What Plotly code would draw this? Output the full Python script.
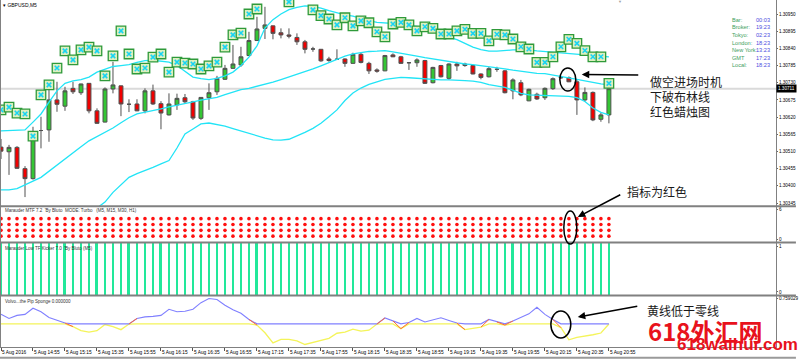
import pandas as pd
import plotly.graph_objects as go

# ---------------- data ----------------
times = pd.date_range("2016-08-05 14:35", periods=77, freq="5min")
tick_times = times[::4]
tick_labels = ["5 Aug 2016", "5 Aug 14:55", "5 Aug 15:15", "5 Aug 15:35", "5 Aug 15:55",
               "5 Aug 16:15", "5 Aug 16:35", "5 Aug 16:55", "5 Aug 17:15", "5 Aug 17:35",
               "5 Aug 17:55", "5 Aug 18:15", "5 Aug 18:35", "5 Aug 18:55", "5 Aug 19:15",
               "5 Aug 19:35", "5 Aug 19:55", "5 Aug 20:15", "5 Aug 20:35", "5 Aug 20:55"]

open_ = [1.30524, 1.30509, 1.30523, 1.30455, 1.30423, 1.30577, 1.30579, 1.30675, 1.30655, 1.30712,
         1.30698, 1.30728, 1.30640, 1.30604, 1.30710, 1.30720, 1.30661, 1.30662, 1.30640, 1.30704,
         1.30663, 1.30627, 1.30659, 1.30682, 1.30669, 1.30616, 1.30682, 1.30701, 1.30741, 1.30776,
         1.30787, 1.30817, 1.30865, 1.30904, 1.30912, 1.30890, 1.30883, 1.30875, 1.30861, 1.30838,
         1.30837, 1.30806, 1.30805, 1.30806, 1.30792, 1.30821, 1.30792, 1.30771, 1.30768, 1.30819,
         1.30813, 1.30794, 1.30794, 1.30801, 1.30730, 1.30785, 1.30744, 1.30790, 1.30790, 1.30785,
         1.30758, 1.30749, 1.30773, 1.30768, 1.30704, 1.30730, 1.30672, 1.30693, 1.30682, 1.30711,
         1.30747, 1.30746, 1.30733, 1.30675, 1.30699, 1.30613, 1.30627]
high = [1.30550, 1.30531, 1.30527, 1.30463, 1.30589, 1.30621, 1.30733, 1.30733, 1.30717, 1.30733,
        1.30727, 1.30729, 1.30648, 1.30715, 1.30797, 1.30721, 1.30677, 1.30677, 1.30712, 1.30724,
        1.30671, 1.30696, 1.30695, 1.30694, 1.30672, 1.30684, 1.30728, 1.30752, 1.30787, 1.30851,
        1.30845, 1.30893, 1.30941, 1.30973, 1.30913, 1.30904, 1.30904, 1.30888, 1.30867, 1.30845,
        1.30838, 1.30813, 1.30837, 1.30808, 1.30826, 1.30826, 1.30797, 1.30776, 1.30819, 1.30824,
        1.30816, 1.30795, 1.30808, 1.30803, 1.30781, 1.30787, 1.30792, 1.30797, 1.30794, 1.30787,
        1.30760, 1.30781, 1.30781, 1.30771, 1.30744, 1.30739, 1.30711, 1.30698, 1.30715, 1.30747,
        1.30750, 1.30750, 1.30739, 1.30715, 1.30702, 1.30633, 1.30715]
low = [1.30486, 1.30435, 1.30454, 1.30364, 1.30420, 1.30520, 1.30541, 1.30637, 1.30640, 1.30694,
       1.30691, 1.30632, 1.30599, 1.30603, 1.30696, 1.30623, 1.30636, 1.30639, 1.30632, 1.30659,
       1.30581, 1.30625, 1.30643, 1.30662, 1.30611, 1.30611, 1.30643, 1.30691, 1.30739, 1.30775,
       1.30781, 1.30816, 1.30864, 1.30870, 1.30869, 1.30872, 1.30872, 1.30851, 1.30824, 1.30829,
       1.30797, 1.30797, 1.30803, 1.30781, 1.30791, 1.30792, 1.30758, 1.30762, 1.30767, 1.30812,
       1.30791, 1.30771, 1.30781, 1.30726, 1.30728, 1.30747, 1.30739, 1.30768, 1.30781, 1.30757,
       1.30741, 1.30747, 1.30765, 1.30696, 1.30677, 1.30687, 1.30671, 1.30675, 1.30675, 1.30707,
       1.30742, 1.30732, 1.30627, 1.30669, 1.30607, 1.30605, 1.30600]
close = [1.30511, 1.30523, 1.30456, 1.30423, 1.30573, 1.30577, 1.30675, 1.30661, 1.30704, 1.30701,
         1.30726, 1.30640, 1.30600, 1.30710, 1.30723, 1.30662, 1.30661, 1.30640, 1.30704, 1.30662,
         1.30633, 1.30662, 1.30680, 1.30669, 1.30617, 1.30683, 1.30698, 1.30744, 1.30776, 1.30790,
         1.30813, 1.30865, 1.30902, 1.30915, 1.30888, 1.30883, 1.30879, 1.30861, 1.30837, 1.30838,
         1.30800, 1.30801, 1.30805, 1.30792, 1.30821, 1.30795, 1.30768, 1.30767, 1.30817, 1.30813,
         1.30792, 1.30794, 1.30803, 1.30728, 1.30779, 1.30749, 1.30790, 1.30784, 1.30785, 1.30758,
         1.30747, 1.30775, 1.30773, 1.30698, 1.30739, 1.30691, 1.30709, 1.30678, 1.30712, 1.30743,
         1.30746, 1.30733, 1.30675, 1.30699, 1.30611, 1.30627, 1.30711]

bb_upper = [1.30576, 1.30577, 1.30578, 1.30579, 1.30604, 1.30630, 1.30668, 1.30704, 1.30728, 1.30736,
            1.30740, 1.30748, 1.30764, 1.30774, 1.30782, 1.30785, 1.30788, 1.30795, 1.30801, 1.30802,
            1.30800, 1.30796, 1.30785, 1.30766, 1.30748, 1.30743, 1.30740, 1.30744, 1.30752, 1.30764,
            1.30785, 1.30812, 1.30848, 1.30905, 1.30932, 1.30950, 1.30964, 1.30971, 1.30976, 1.30974,
            1.30969, 1.30961, 1.30954, 1.30947, 1.30943, 1.30935, 1.30929, 1.30923, 1.30921, 1.30919,
            1.30918, 1.30913, 1.30910, 1.30903, 1.30895, 1.30885, 1.30876, 1.30868, 1.30856, 1.30844,
            1.30836, 1.30831, 1.30831, 1.30834, 1.30835, 1.30835, 1.30835, 1.30832, 1.30830, 1.30828,
            1.30825, 1.30823, 1.30821, 1.30819, 1.30817, 1.30816, 1.30813]
bb_middle = [1.30387, 1.30387, 1.30391, 1.30404, 1.30415, 1.30427, 1.30447, 1.30468, 1.30487, 1.30506,
             1.30525, 1.30544, 1.30558, 1.30571, 1.30585, 1.30602, 1.30618, 1.30630, 1.30635, 1.30640,
             1.30646, 1.30653, 1.30659, 1.30665, 1.30669, 1.30674, 1.30678, 1.30683, 1.30692, 1.30700,
             1.30708, 1.30712, 1.30718, 1.30724, 1.30732, 1.30740, 1.30748, 1.30757, 1.30766, 1.30774,
             1.30784, 1.30794, 1.30805, 1.30815, 1.30822, 1.30827, 1.30830, 1.30831, 1.30833, 1.30829,
             1.30825, 1.30820, 1.30815, 1.30810, 1.30806, 1.30801, 1.30797, 1.30792, 1.30790, 1.30788,
             1.30785, 1.30782, 1.30778, 1.30774, 1.30770, 1.30766, 1.30762, 1.30760, 1.30759, 1.30755,
             1.30749, 1.30745, 1.30741, 1.30736, 1.30730, 1.30726, 1.30723]
bb_lower = [1.30195, 1.30195, 1.30201, 1.30214, 1.30223, 1.30233, 1.30239, 1.30249, 1.30259, 1.30275,
            1.30291, 1.30310, 1.30329, 1.30348, 1.30379, 1.30402, 1.30427, 1.30439, 1.30448, 1.30459,
            1.30470, 1.30481, 1.30521, 1.30566, 1.30582, 1.30598, 1.30601, 1.30596, 1.30591, 1.30583,
            1.30575, 1.30567, 1.30559, 1.30553, 1.30547, 1.30546, 1.30549, 1.30559, 1.30571, 1.30584,
            1.30600, 1.30621, 1.30643, 1.30673, 1.30697, 1.30713, 1.30725, 1.30733, 1.30741, 1.30744,
            1.30747, 1.30746, 1.30744, 1.30743, 1.30740, 1.30739, 1.30739, 1.30739, 1.30737, 1.30735,
            1.30731, 1.30724, 1.30720, 1.30715, 1.30706, 1.30696, 1.30691, 1.30690, 1.30689, 1.30688,
            1.30687, 1.30686, 1.30682, 1.30670, 1.30649, 1.30635, 1.30627]

signal_marks = [1.30643, 1.30652, 1.30633, 1.30630, 1.30559, 1.30691, 1.30723, 1.30777, 1.30832, 1.30803,
                1.30835, 1.30844, 1.30832, 1.30752, 1.30816, 1.30896, 1.30822, 1.30774, 1.30777, 1.30812,
                1.30822, 1.30764, 1.30796, 1.30793, 1.30790, 1.30774, 1.30784, 1.30796, 1.30844, 1.30883,
                1.30889, 1.30950, 1.30966, 1.31020, 1.31020, 1.31020, 1.30989, 1.31020, 1.31020, 1.30963,
                1.30945, 1.30934, 1.30915, 1.30938, 1.30912, 1.30928, 1.30922, 1.30893, 1.30877, 1.30918,
                1.30923, 1.30915, 1.30896, 1.30909, 1.30904, 1.30886, 1.30886, 1.30896, 1.30901, 1.30888,
                1.30888, 1.30864, 1.30885, 1.30883, 1.30870, 1.30845, 1.30838, 1.30795, 1.30795, 1.30813,
                1.30845, 1.30869, 1.30856, 1.30833, 1.30813, 1.30813, 1.30728]

bid_price = 1.30711
price_ticks = [1.30950, 1.30895, 1.30840, 1.30785, 1.30730, 1.30675, 1.30620,
               1.30565, 1.30510, 1.30455, 1.30400, 1.30345]

# Marauder MTF: one row of red dots per timeframe
mtf_rows = {"M5": 4, "M15": 3, "M30": 2, "H1": 1}
# Marauder Low TF Kicker histogram
kicker = [1, 1, 1, 1, 1, 1, 1, 1, 1, 1, 1, 1, 1, 1, 1, 1, 1, 1, 1, 1,
          1, 1, 1, 1, 1, 1, 1, 1, 1, 1, 1, 1, 1, 1, 1, 1, 1, 1, 1, 1,
          1, 1, 1, 1, 1, 1, 1, 1, 1, 1, 1, 1, 1, 1, 1, 1, 1, 1, 1, 1,
          1, 1, 1, 1, 1, 1, 1, 1, 1, 1, 1, 1, 1, 1, 1, 1, 1]
# Volvo ... the Pip Sponge
volvo = [0.259, 0.147, 0.231, 0.259, 0.425, 0.328, 0.175, 0.106, 0.022, -0.075,
         -0.186, -0.228, -0.186, -0.019, -0.075, -0.158, -0.006, 0.147, 0.189, 0.203,
         0.231, 0.398, 0.328, 0.342, 0.398, 0.578, 0.689, 0.662, 0.509, 0.384,
         0.286, 0.120, -0.033, -0.242, -0.520, -0.423, -0.423, -0.464, -0.562, -0.506,
         -0.436, -0.395, -0.256, -0.228, -0.145, -0.200, -0.172, -0.006, 0.161, 0.078,
         -0.131, 0.036, 0.147, 0.050, 0.106, 0.167, 0.092, 0.022, -0.158, -0.117,
         -0.089, 0.120, 0.050, -0.033, 0.078, 0.175, 0.272, 0.453, 0.259, 0.120,
         -0.103, -0.436, -0.367, -0.339, -0.297, -0.250, -0.003]

info_labels = ["Bar:", "Broker:", "Tokyo:", "London:", "New York:", "GMT", "Local:"]
info_values = ["00:03", "19:23", "02:23", "18:23", "13:23", "17:23", "18:23"]

# ---------------- layout helpers (pixel -> paper) ----------------
PW, PH = 779.0, 347.0


def fx(p):
    return p / PW


def fy(p):
    return 1 - p / PH


FONT = "Liberation Sans"
CJK = "Noto Sans CJK SC"

fig = go.Figure()

# main chart
for band in (bb_upper, bb_middle, bb_lower):
    fig.add_trace(go.Scatter(x=times, y=band, mode="lines", line=dict(color="#22e4f6", width=1.3),
                             xaxis="x", yaxis="y", hoverinfo="skip"))
fig.add_trace(go.Candlestick(
    x=times, open=open_, high=high, low=low, close=close, xaxis="x", yaxis="y",
    increasing=dict(line=dict(color="#505050", width=1), fillcolor="#34c634"),
    decreasing=dict(line=dict(color="#505050", width=1), fillcolor="#f20000"),
    whiskerwidth=0))
fig.add_trace(go.Scatter(x=times, y=signal_marks, mode="markers", xaxis="x", yaxis="y",
                         marker=dict(symbol="square", size=9.5, color="#dcefbf",
                                     line=dict(color="#2f9a3a", width=1.3))))
fig.add_trace(go.Scatter(x=times, y=signal_marks, mode="markers", xaxis="x", yaxis="y",
                         marker=dict(symbol="x-thin-open", size=4.5,
                                     line=dict(color="#1f6f2a", width=1.6))))

# Marauder MTF panel
for tf, lvl in mtf_rows.items():
    fig.add_trace(go.Scatter(x=times, y=[lvl] * len(times), mode="markers", xaxis="x", yaxis="y2",
                             marker=dict(symbol="circle", size=3.6, color="#ff1010"), name=tf))

# Kicker panel
fig.add_trace(go.Bar(x=times, y=kicker, width=75000, marker=dict(color="#22e89a", line=dict(width=0)),
                     xaxis="x", yaxis="y3"))

# Volvo panel
vol_pos = [v if v > 0 else 0 for v in volvo]
vol_neg = [v if v < 0 else 0 for v in volvo]
fig.add_trace(go.Scatter(x=times, y=vol_neg, mode="lines", line=dict(color="#f4f45a", width=1.3),
                         xaxis="x", yaxis="y4"))
fig.add_trace(go.Scatter(x=times, y=vol_pos, mode="lines", line=dict(color="#8080ff", width=1.1),
                         xaxis="x", yaxis="y4"))
cx, cy = [], []
for i in range(len(volvo) - 1):
    if (volvo[i] > 0) != (volvo[i + 1] > 0):
        cx += [times[i], times[i + 1], None]
        cy += [volvo[i], volvo[i + 1], None]
fig.add_trace(go.Scatter(x=cx, y=cy, mode="lines", line=dict(color="#ff6a3a", width=1),
                         xaxis="x", yaxis="y4"))

t0 = times[0]
x_range = [t0 - pd.Timedelta(seconds=300 * 0.125), t0 + pd.Timedelta(seconds=300 * 96.89)]

axis_common = dict(showgrid=False, zeroline=False, side="right", anchor="x", ticks="outside",
                   ticklen=1, tickcolor="#666666", tickfont=dict(family=FONT, size=4.6, color="#000000"),
                   showline=True, linecolor="#808080", linewidth=1, fixedrange=True)

fig.update_layout(
    width=799, height=360,
    margin=dict(l=0, r=20, t=0, b=13),
    paper_bgcolor="white", plot_bgcolor="white",
    showlegend=False, bargap=0,
    xaxis=dict(range=x_range, anchor="y4", showgrid=False, zeroline=False,
               tickvals=list(tick_times), ticktext=tick_labels, ticks="outside", ticklen=3,
               tickangle=0, tickcolor="#555555", tickfont=dict(family=FONT, size=4.8, color="#000000"),
               ticklabelposition="outside right", showline=True, linecolor="#808080",
               rangeslider=dict(visible=False)),
    yaxis=dict(domain=[fy(206), 1], range=[1.303354, 1.309948], tickvals=price_ticks,
               tickformat=".5f", **axis_common),
    yaxis2=dict(domain=[fy(242), fy(207)], range=[0, 6], tickvals=[5.65, 0.5], ticktext=["6", "0"],
                **axis_common),
    yaxis3=dict(domain=[fy(295), fy(243)], range=[0, 1], tickvals=[0.93, 0.06], ticktext=["1", "0"],
                **axis_common),
    yaxis4=dict(domain=[0, fy(296)], range=[-0.631, 0.759], tickvals=[0.70], ticktext=["0.759029"],
                **axis_common),
)

shapes = []
# bid line
shapes.append(dict(type="line", xref="paper", yref="y", x0=0, x1=1, y0=bid_price, y1=bid_price,
                   line=dict(color="#dadada", width=2), layer="below"))
# separators
for yy in [206.3, 242.6, 295.6]:
    shapes.append(dict(type="line", xref="paper", yref="paper", x0=0, x1=799 / PW, y0=fy(yy), y1=fy(yy),
                       line=dict(color="#808080", width=2)))
shapes.append(dict(type="line", xref="paper", yref="paper", x0=0, x1=799 / PW, y0=fy(357.8), y1=fy(357.8),
                   line=dict(color="#9a9a9a", width=2)))
shapes.append(dict(type="line", xref="paper", yref="paper", x0=fx(0.5), x1=fx(0.5), y0=0, y1=1,
                   line=dict(color="#808080", width=1)))
# ellipses
for (x0, x1, y0, y1) in [(562, 578, 68, 91), (566, 579, 211, 244), (553, 573, 311, 338)]:
    shapes.append(dict(type="circle", xref="paper", yref="paper", x0=fx(x0), x1=fx(x1),
                       y0=fy(y1), y1=fy(y0), line=dict(color="#000000", width=1.5)))
fig.update_layout(shapes=shapes)

ann = []


def text(px, py, s, size, color="#000000", family=FONT, xanchor="left"):
    ann.append(dict(x=fx(px), y=fy(py), xref="paper", yref="paper", text=s, showarrow=False,
                    xanchor=xanchor, yanchor="middle", font=dict(family=family, size=size, color=color)))


text(1, 4.5, "▾ GBPUSD,M5", 5)
text(3, 210.5, "Marauder MTF 7.2  'By Bluto  MODE: Turbo   (M5, M15, M30, H1)", 4.5, "#333333")
text(3, 248, "Marauder Low TF Kicker 7.0  'By Bluto (M5)", 4.5, "#333333")
text(3, 301, "Volvo...the Pip Sponge 0.000000", 4.5, "#333333")
text(622, 1.5, "▼", 4, "#a0a0a0", xanchor="center")

for k, (lab, val) in enumerate(zip(info_labels, info_values)):
    yy = 20 + k * 7.5
    text(732.5, yy, lab, 5.6, "#3e9e5e")
    text(756.5, yy, val, 5.6, "#4c4ce0")

text(651, 81, "做空进场时机", 12, "#1a1a1a", CJK)
text(651, 96.5, "下破布林线", 12, "#1a1a1a", CJK)
text(651, 111, "红色蜡烛图", 12, "#1a1a1a", CJK)
text(627, 191, "指标为红色", 12, "#1a1a1a", CJK)
text(647, 310.5, "黄线低于零线", 12, "#1a1a1a", CJK)
text(648, 330.5, "<b>618外汇网</b>", 24, "#e8121c", CJK)
text(678, 344.5, "<b>618waihui.com</b>", 17, "#e8121c", FONT)

for (hx, hy, tx, ty) in [(584, 74.5, 642, 75), (580, 217, 624, 194), (580, 317, 641, 306)]:
    ann.append(dict(x=fx(hx), y=fy(hy), xref="paper", yref="paper", ax=tx - hx, ay=ty - hy,
                    axref="pixel", ayref="pixel", text="", showarrow=True, arrowhead=2,
                    arrowsize=1, arrowwidth=1.5, arrowcolor="#000000", standoff=0))

# current price tag
ann.append(dict(x=1, y=bid_price, xref="paper", yref="y", text="1.30711", showarrow=False,
                xanchor="left", yanchor="middle", bgcolor="#000000", borderpad=1,
                font=dict(family=FONT, size=4.6, color="#ffffff")))

fig.update_layout(annotations=ann)

fig.write_html("out.html", config={"displayModeBar": False},
               post_script="document.body.style.margin='0px';document.body.style.overflow='hidden';")
